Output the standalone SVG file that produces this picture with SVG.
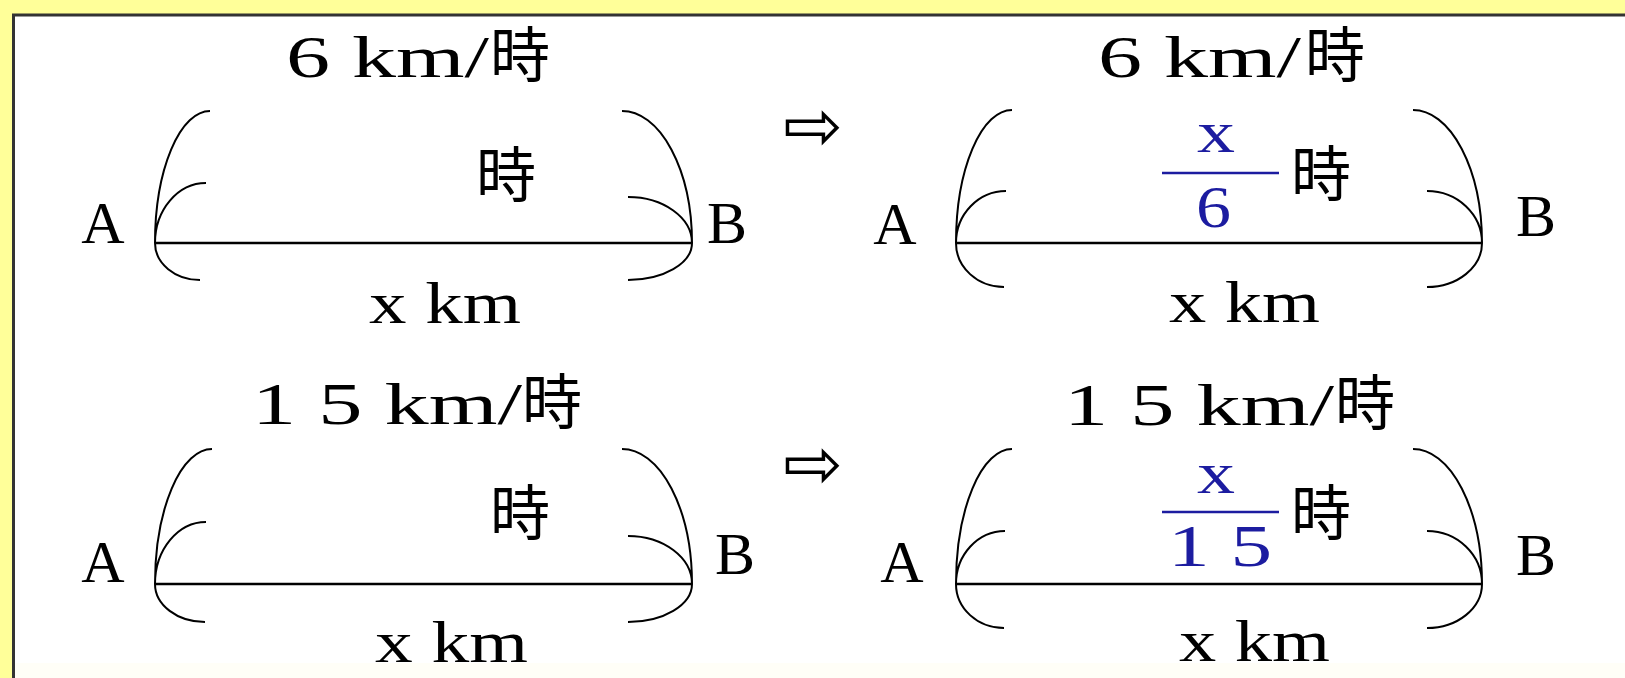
<svg xmlns="http://www.w3.org/2000/svg" width="1625" height="678" viewBox="0 0 1625 678">
<style>
.lt{font-family:"Liberation Serif","Times New Roman",serif;font-size:60px;fill:#000}
.cj{font-family:"Noto Sans CJK JP","Noto Sans CJK SC",sans-serif;font-size:60px;fill:#000}
.bl{fill:#1c1ca0}
.arc{fill:none;stroke:#000;stroke-width:2}
.ln{fill:none;stroke:#000;stroke-width:2.5}
.bar{stroke:#1c1ca0;stroke-width:2.5}
.ar{font-family:"DejaVu Sans",sans-serif;font-size:71px;fill:#000}
</style>
<rect x="0" y="0" width="1625" height="678" fill="#ffff99"/>
<rect x="13.5" y="15" width="1620" height="670" fill="#ffffff" stroke="#333" stroke-width="3"/>
<rect x="15" y="663" width="1610" height="15" fill="#fffef7"/>

<g id="panel1">
<text class="lt" y="77"><tspan x="286" textLength="203" lengthAdjust="spacingAndGlyphs">6 km/</tspan><tspan class="cj" x="490">時</tspan></text>
<path class="arc" d="M210,111 A55,132 0 0 0 155,243 M206,183 A51,60 0 0 0 155,243 M155,243 A45,37 0 0 0 200,280 M622,111 A70,132 0 0 1 692,243 M628,197 A64,46 0 0 1 692,243 M692,243 A64,37 0 0 1 628,280"/>
<line class="ln" x1="155" y1="243" x2="692" y2="243"/>
<text class="lt" x="103" y="243" text-anchor="middle">A</text>
<text class="lt" x="727" y="243" text-anchor="middle">B</text>
<text class="cj" x="506" y="197" text-anchor="middle">時</text>
<text class="lt" x="369" y="323" textLength="152" lengthAdjust="spacingAndGlyphs">x km</text>
</g>

<g id="panel2">
<text class="lt" y="424"><tspan x="252" textLength="270" lengthAdjust="spacingAndGlyphs">1 5 km/</tspan><tspan class="cj" x="522">時</tspan></text>
<path class="arc" d="M212,449 A57,135 0 0 0 155,584 M206,522 A51,62 0 0 0 155,584 M155,584 A50,38 0 0 0 205,622 M622,449 A70,135 0 0 1 692,584 M628,536 A64,48 0 0 1 692,584 M692,584 A64,38 0 0 1 628,622"/>
<line class="ln" x1="155" y1="584" x2="692" y2="584"/>
<text class="lt" x="103" y="582" text-anchor="middle">A</text>
<text class="lt" x="735" y="574" text-anchor="middle">B</text>
<text class="cj" x="520" y="535" text-anchor="middle">時</text>
<text class="lt" x="375" y="662" textLength="153" lengthAdjust="spacingAndGlyphs">x km</text>
</g>

<g id="panel3">
<text class="lt" y="77"><tspan x="1098" textLength="203" lengthAdjust="spacingAndGlyphs">6 km/</tspan><tspan class="cj" x="1305">時</tspan></text>
<path class="arc" d="M1012,110 A56,133 0 0 0 956,243 M1006,191 A50,52 0 0 0 956,243 M956,243 A48,44 0 0 0 1004,287 M1413,110 A69,133 0 0 1 1482,243 M1427,191 A55,52 0 0 1 1482,243 M1482,243 A55,44 0 0 1 1427,287"/>
<line class="ln" x1="956" y1="243" x2="1482" y2="243"/>
<text class="lt" x="895" y="244" text-anchor="middle">A</text>
<text class="lt" x="1536" y="236" text-anchor="middle">B</text>
<text class="lt bl" x="1197" y="152" textLength="38" lengthAdjust="spacingAndGlyphs">x</text>
<line class="bar" x1="1162" y1="173" x2="1279" y2="173"/>
<text class="lt bl" x="1196" y="227" textLength="35" lengthAdjust="spacingAndGlyphs">6</text>
<text class="cj" x="1321" y="196" text-anchor="middle">時</text>
<text class="lt" x="1169" y="322" textLength="151" lengthAdjust="spacingAndGlyphs">x km</text>
</g>

<g id="panel4">
<text class="lt" y="425"><tspan x="1064" textLength="270" lengthAdjust="spacingAndGlyphs">1 5 km/</tspan><tspan class="cj" x="1335">時</tspan></text>
<path class="arc" d="M1012,449 A56,135 0 0 0 956,584 M1005,531 A49,53 0 0 0 956,584 M956,584 A48,44 0 0 0 1004,628 M1413,449 A69,135 0 0 1 1482,584 M1427,531 A55,53 0 0 1 1482,584 M1482,584 A55,44 0 0 1 1427,628"/>
<line class="ln" x1="956" y1="584" x2="1482" y2="584"/>
<text class="lt" x="902" y="582" text-anchor="middle">A</text>
<text class="lt" x="1536" y="575" text-anchor="middle">B</text>
<text class="lt bl" x="1197" y="493" textLength="38" lengthAdjust="spacingAndGlyphs">x</text>
<line class="bar" x1="1162" y1="512" x2="1279" y2="512"/>
<text class="lt bl" x="1168" y="566" textLength="104" lengthAdjust="spacingAndGlyphs">1 5</text>
<text class="cj" x="1321" y="535" text-anchor="middle">時</text>
<text class="lt" x="1179" y="661" textLength="151" lengthAdjust="spacingAndGlyphs">x km</text>
</g>

<g id="connectors">
<text class="ar" x="813" y="150" text-anchor="middle">⇨</text>
<text class="ar" x="813" y="488" text-anchor="middle">⇨</text>
</g>
</svg>
